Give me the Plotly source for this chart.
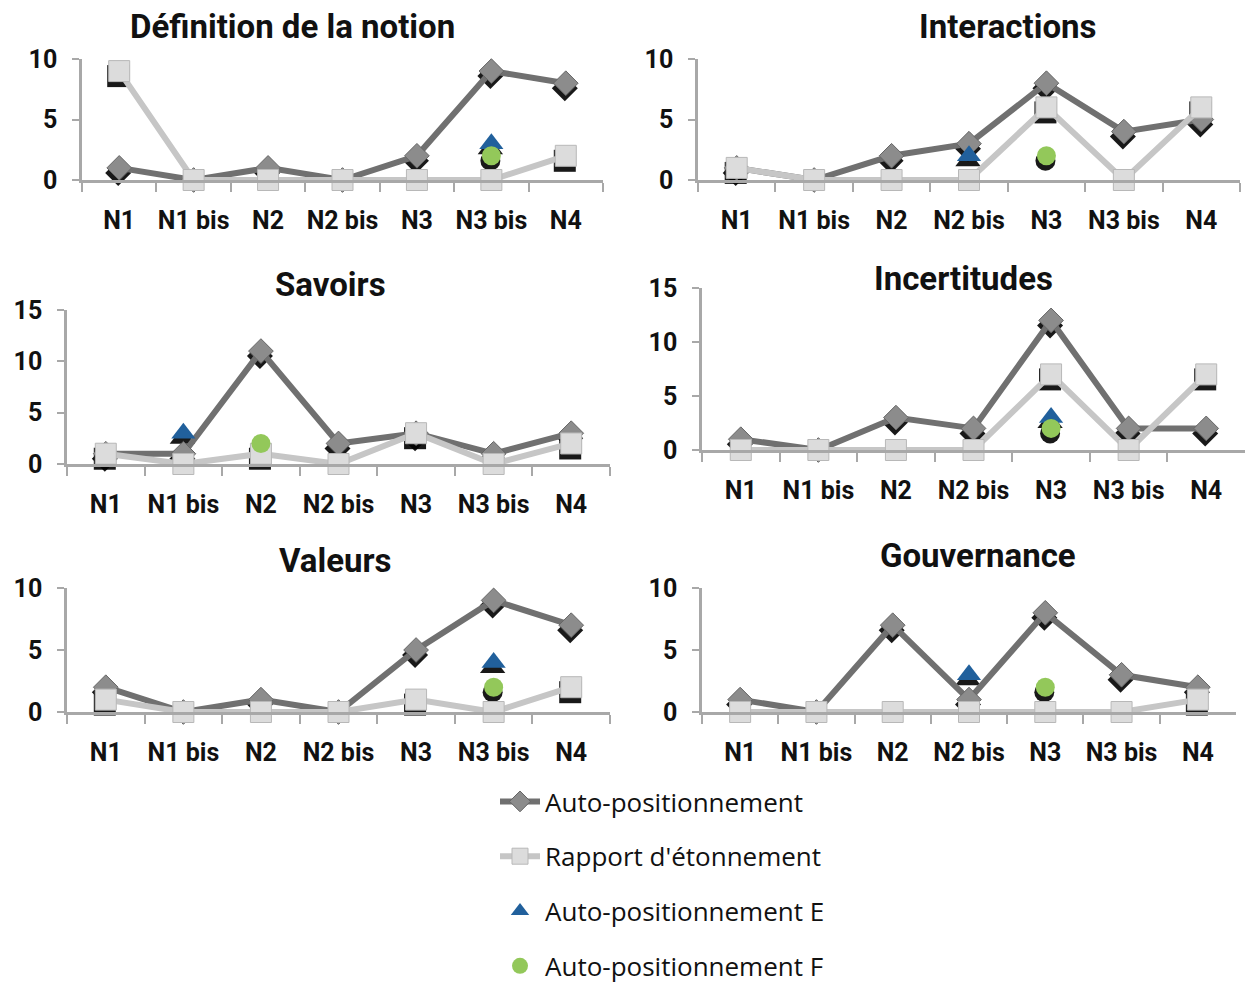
import plotly.graph_objects as go

# ---------------- data ----------------
categories = ["N1", "N1 bis", "N2", "N2 bis", "N3", "N3 bis", "N4"]
panel_titles = ["Définition de la notion", "Interactions", "Savoirs",
                "Incertitudes", "Valeurs", "Gouvernance"]
series_names = ["Auto-positionnement", "Rapport d'étonnement",
                "Auto-positionnement E", "Auto-positionnement F"]

def_auto = [1, 0, 1, 0, 2, 9, 8]
def_rapport = [9, 0, 0, 0, 0, 0, 2]
def_E = [None, None, None, None, None, 3, None]
def_F = [None, None, None, None, None, 2, None]

int_auto = [1, 0, 2, 3, 8, 4, 5]
int_rapport = [1, 0, 0, 0, 6, 0, 6]
int_E = [None, None, None, 2, None, None, None]
int_F = [None, None, None, None, 2, None, None]

sav_auto = [1, 1, 11, 2, 3, 1, 3]
sav_rapport = [1, 0, 1, 0, 3, 0, 2]
sav_E = [None, 3, None, None, None, None, None]
sav_F = [None, None, 2, None, None, None, None]

inc_auto = [1, 0, 3, 2, 12, 2, 2]
inc_rapport = [0, 0, 0, 0, 7, 0, 7]
inc_E = [None, None, None, None, 3, None, None]
inc_F = [None, None, None, None, 2, None, None]

val_auto = [2, 0, 1, 0, 5, 9, 7]
val_rapport = [1, 0, 0, 0, 1, 0, 2]
val_E = [None, None, None, None, None, 4, None]
val_F = [None, None, None, None, None, 2, None]

gov_auto = [1, 0, 7, 1, 8, 3, 2]
gov_rapport = [0, 0, 0, 0, 0, 0, 1]
gov_E = [None, None, None, 3, None, None, None]
gov_F = [None, None, None, None, 2, None, None]

y_max = [10, 10, 15, 15, 10, 10]

panels = [
    (def_auto, def_rapport, def_E, def_F),
    (int_auto, int_rapport, int_E, int_F),
    (sav_auto, sav_rapport, sav_E, sav_F),
    (inc_auto, inc_rapport, inc_E, inc_F),
    (val_auto, val_rapport, val_E, val_F),
    (gov_auto, gov_rapport, gov_E, gov_F),
]

# ---------------- layout (pixel boxes) ----------------
W, H = 1249, 987
boxes = [  # x0, x1, y_top, y_bottom (pixels)
    (82, 603, 59, 180),
    (698, 1240, 59, 180),
    (67, 610, 310, 464),
    (702, 1245, 288, 450),
    (67, 610, 588, 712),
    (702, 1236, 588, 712),
]
title_pos = [(292, 26), (1008, 27), (330, 285), (963, 278), (335, 560), (978, 555)]

AUTO_LINE = "#707070"
AUTO_MARK = "#8c8c8c"
RAP_LINE = "#c6c6c6"
RAP_MARK = "#dcdcdc"
E_COL = "#21609c"
F_COL = "#93c85a"
AXIS_COL = "#a8a8a8"

tick_font = dict(family="Roboto, sans-serif", size=25, color="#111111", weight="bold")
title_font = dict(family="Roboto, sans-serif", size=33, color="#111111", weight="bold")

SHADOW_DX, SHADOW_DY = -1, 5

fig = go.Figure()
layout = dict(width=W, height=H, autosize=False,
              margin=dict(l=0, r=0, t=0, b=0, autoexpand=False),
              paper_bgcolor="white", plot_bgcolor="rgba(0,0,0,0)",
              showlegend=True, annotations=[])

shadow_specs = [("diamond", 20), ("square", 22), ("triangle-up", 22), ("circle", 20)]

for i, (vals, box, ymax) in enumerate(zip(panels, boxes, y_max)):
    x0, x1, yt, yb = box
    wpx, hpx = x1 - x0, yb - yt
    dom_x = [x0 / W, x1 / W]
    dom_y = [1 - yb / H, 1 - yt / H]
    b = i + 1          # shadow (base) axes
    o = i + 7          # visible data axes (overlay)
    ux = 7.0 / wpx
    uy = ymax / hpx
    layout[f"xaxis{b}"] = dict(domain=dom_x, anchor=f"y{b}", type="category",
                              categoryorder="array", categoryarray=categories,
                              range=[-0.5 - SHADOW_DX * ux, 6.5 - SHADOW_DX * ux],
                              visible=False, fixedrange=True)
    layout[f"yaxis{b}"] = dict(domain=dom_y, anchor=f"x{b}",
                              range=[SHADOW_DY * uy, ymax + SHADOW_DY * uy],
                              visible=False, fixedrange=True)
    layout[f"xaxis{o}"] = dict(domain=dom_x, anchor=f"y{o}", overlaying=f"x{b}",
                              type="category", categoryorder="array",
                              categoryarray=categories, range=[-0.5, 6.5],
                              showline=True, linecolor=AXIS_COL, linewidth=2.5,
                              ticks="outside", tickson="boundaries", ticklen=9,
                              tickcolor=AXIS_COL, tickwidth=2, tickangle=0,
                              showgrid=False, zeroline=False,
                              tickfont=tick_font, ticklabelstandoff=16,
                              fixedrange=True)
    layout[f"yaxis{o}"] = dict(domain=dom_y, anchor=f"x{o}", overlaying=f"y{b}",
                              range=[0, ymax], dtick=5, tick0=0,
                              showline=True, linecolor=AXIS_COL, linewidth=2.5,
                              ticks="outside", ticklen=7, tickcolor=AXIS_COL,
                              tickwidth=2, showgrid=False, zeroline=False,
                              tickfont=tick_font, ticklabelstandoff=10,
                              fixedrange=True)

    # shadows
    for k, series in enumerate(vals):
        sym, sz = shadow_specs[k]
        fig.add_trace(go.Scatter(
            x=categories, y=series, mode="markers",
            marker=dict(symbol=sym, size=sz, color="rgba(0,0,0,0.9)", line=dict(width=0)),
            xaxis=f"x{b}", yaxis=f"y{b}", cliponaxis=False,
            showlegend=False, hoverinfo="skip"))

    # data
    auto, rap, e, f = vals
    fig.add_trace(go.Scatter(
        x=categories, y=auto, mode="lines+markers", name=series_names[0],
        line=dict(color=AUTO_LINE, width=6),
        marker=dict(symbol="diamond", size=19, color=AUTO_MARK,
                    line=dict(color="#666666", width=1)),
        xaxis=f"x{o}", yaxis=f"y{o}", cliponaxis=False,
        legendgroup="a", showlegend=(i == 0)))
    fig.add_trace(go.Scatter(
        x=categories, y=rap, mode="lines+markers", name=series_names[1],
        line=dict(color=RAP_LINE, width=6),
        marker=dict(symbol="square", size=21, color=RAP_MARK,
                    line=dict(color="#b8b8b8", width=1)),
        xaxis=f"x{o}", yaxis=f"y{o}", cliponaxis=False,
        legendgroup="b", showlegend=(i == 0)))
    fig.add_trace(go.Scatter(
        x=categories, y=e, mode="markers", name=series_names[2],
        marker=dict(symbol="triangle-up", size=21, color=E_COL, line=dict(width=0)),
        xaxis=f"x{o}", yaxis=f"y{o}", cliponaxis=False,
        legendgroup="c", showlegend=(i == 0)))
    fig.add_trace(go.Scatter(
        x=categories, y=f, mode="markers", name=series_names[3],
        marker=dict(symbol="circle", size=19, color=F_COL, line=dict(width=0)),
        xaxis=f"x{o}", yaxis=f"y{o}", cliponaxis=False,
        legendgroup="d", showlegend=(i == 0)))

    tx, ty = title_pos[i]
    layout["annotations"].append(dict(
        text=panel_titles[i], x=tx / W, y=1 - ty / H,
        xref="paper", yref="paper", xanchor="center", yanchor="middle",
        showarrow=False, font=title_font))

layout["legend"] = dict(x=495 / W, y=-3 / H, xanchor="left", yanchor="bottom",
                        font=dict(family="Open Sans, sans-serif", size=26, color="#111111"),
                        tracegroupgap=18, itemwidth=40, bgcolor="rgba(0,0,0,0)")

fig.update_layout(**layout)
fig.write_html("out.html", config={"displayModeBar": False},
               post_script="document.body.style.margin='0';")
